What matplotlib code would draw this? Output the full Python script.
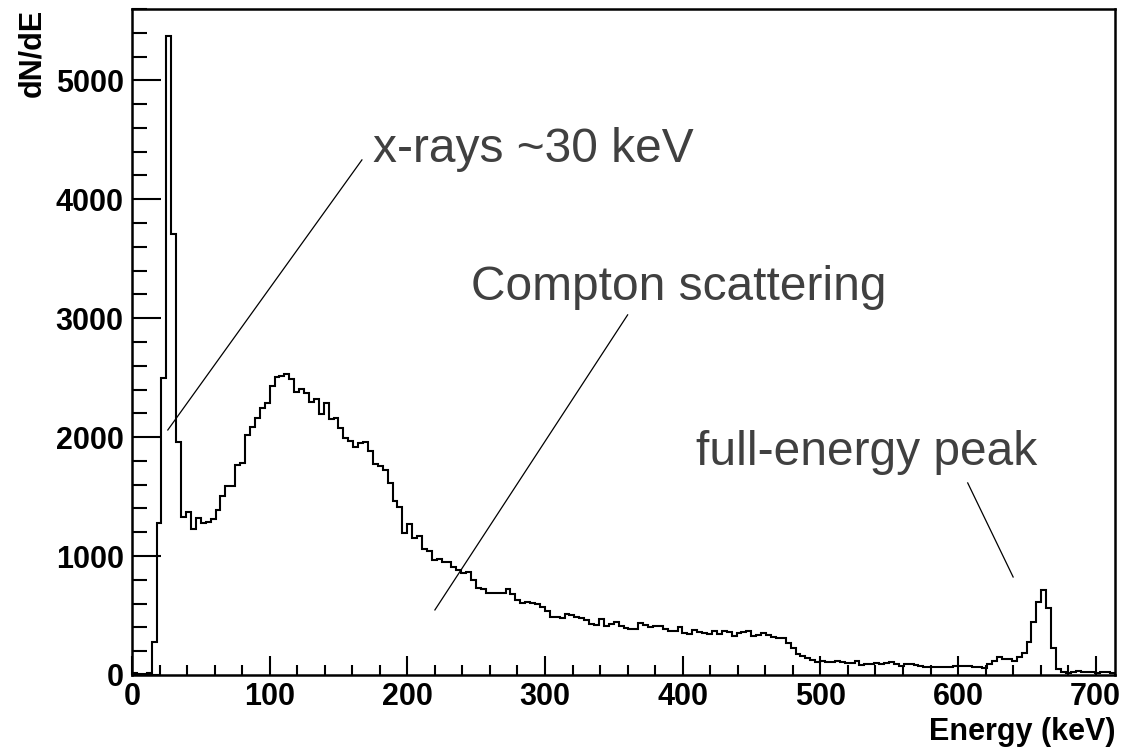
import numpy as np
import matplotlib
matplotlib.use("Agg")
import matplotlib.pyplot as plt
from matplotlib.ticker import MultipleLocator

plt.rcParams['font.family'] = ['Liberation Sans', 'DejaVu Sans']

# histogram: 200 bins from 0 to 714 keV, counts
e_min, e_max, n_bins = 0.0, 714.0, 200
counts = [
    15, 8, 5, 20, 275, 1281, 2500, 5370, 3710, 1960,
    1331, 1374, 1228, 1318, 1281, 1290, 1309, 1388, 1505, 1592,
    1592, 1769, 1786, 2019, 2089, 2159, 2248, 2290, 2431, 2504,
    2518, 2532, 2487, 2380, 2408, 2374, 2299, 2319, 2195, 2285,
    2153, 2164, 2075, 1991, 1971, 1915, 1949, 1960, 1884, 1772,
    1758, 1725, 1612, 1462, 1410, 1192, 1273, 1150, 1169, 1060,
    1045, 967, 976, 950, 948, 911, 883, 860, 864, 799,
    734, 723, 692, 692, 692, 692, 721, 681, 631, 603,
    614, 603, 597, 575, 538, 490, 486, 477, 513, 507,
    490, 477, 463, 426, 420, 474, 412, 426, 449, 415,
    393, 384, 384, 440, 420, 406, 415, 410, 384, 372,
    372, 401, 356, 342, 378, 364, 356, 345, 373, 342,
    370, 359, 331, 351, 364, 370, 328, 336, 356, 336,
    317, 309, 314, 267, 224, 174, 160, 140, 126, 107,
    120, 112, 107, 118, 112, 105, 98, 120, 84, 89,
    92, 98, 92, 105, 112, 89, 72, 93, 92, 80,
    72, 70, 66, 64, 66, 70, 70, 76, 76, 76,
    76, 70, 70, 56, 93, 118, 154, 137, 132, 120,
    154, 182, 280, 448, 617, 715, 560, 230, 50, 22,
    18, 25, 30, 28, 22, 25, 20, 25, 22, 20,
]

# annotation texts, text anchor (keV, counts) and pointer line ends
labels = ["x-rays ~30 keV", "Compton scattering", "full-energy peak"]
label_pos = [(175, 4315), (246, 3154), (410, 1766)]
line_from = [(167, 4331), (360, 3028), (607, 1615)]
line_to = [(26, 2060), (220, 547), (640, 824)]

edges = np.linspace(e_min, e_max, n_bins + 1)

fig = plt.figure(figsize=(11.35, 7.48), dpi=100)
ax = fig.add_axes([0.1163, 0.0976, 0.8661, 0.8904])

ax.stairs(counts, edges, color='black', lw=1.5)

ax.set_xlim(e_min, e_max)
ax.set_ylim(0, 5600)

ax.xaxis.set_major_locator(MultipleLocator(100))
ax.xaxis.set_minor_locator(MultipleLocator(20))
ax.yaxis.set_major_locator(MultipleLocator(1000))
ax.yaxis.set_minor_locator(MultipleLocator(200))

ax.tick_params(axis='x', which='major', direction='in', length=14, width=1.5,
               labelsize=22, pad=5)
ax.tick_params(axis='x', which='minor', direction='in', length=7, width=1.5)
ax.tick_params(axis='y', which='major', direction='in', length=21, width=1.5,
               labelsize=22, pad=6)
ax.tick_params(axis='y', which='minor', direction='in', length=11, width=1.5)
for lab in ax.get_xticklabels() + ax.get_yticklabels():
    lab.set_fontweight('bold')

for sp in ax.spines.values():
    sp.set_linewidth(1.8)

ax.set_xlabel('Energy (keV)', loc='right', fontsize=22, fontweight='bold',
              labelpad=4)
ax.set_ylabel('dN/dE', loc='top', fontsize=22, fontweight='bold', labelpad=6)

for txt, pos, p0, p1 in zip(labels, label_pos, line_from, line_to):
    ax.text(pos[0], pos[1], txt, fontsize=34.5, color='#404040',
            ha='left', va='baseline')
    ax.plot([p0[0], p1[0]], [p0[1], p1[1]], color='black', lw=0.9)

fig.savefig('out.png', dpi=100)
